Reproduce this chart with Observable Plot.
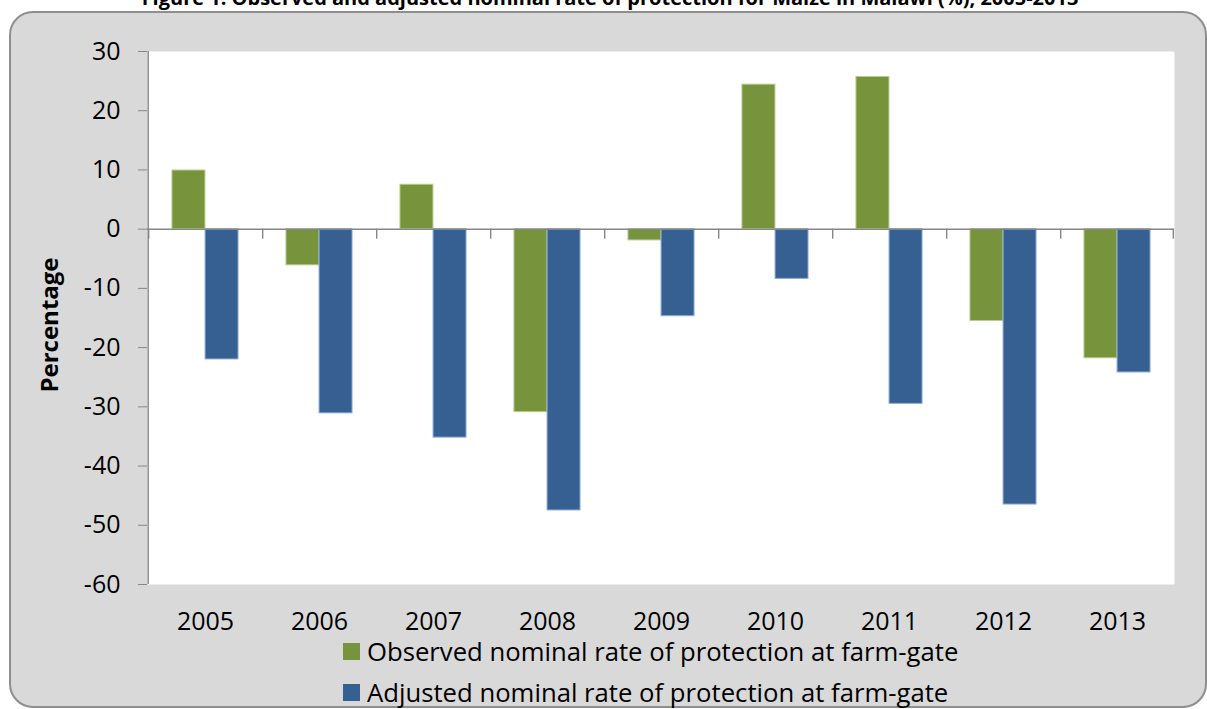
<!DOCTYPE html>
<html>
<head>
<meta charset="utf-8">
<script src="https://cdn.jsdelivr.net/npm/d3@7"></script>
<script src="https://cdn.jsdelivr.net/npm/@observablehq/plot@0.6"></script>
<style>
  html, body { margin: 0; padding: 0; background: #ffffff; }
  #page { position: relative; width: 1207px; height: 709px; overflow: hidden; font-family: "Open Sans", sans-serif; }
  #box { position: absolute; left: 9px; top: 11px; width: 1198px; height: 697px; box-sizing: border-box;
         background: #d9d9d9; border: 2px solid #8e8e8e; border-radius: 24px; }
  #title { position: absolute; left: 0; top: -12px; width: 1220px; text-align: center; font-weight: bold;
           font-size: 20px; line-height: 20px; color: #000; white-space: nowrap; }
  #chart { position: absolute; left: 0; top: 0; }
  #chart svg { overflow: visible; }
  #chart [aria-label="y-axis tick"], #chart .tick line { stroke: #868686; }
  #legend { position: absolute; left: 343px; top: 631px; font-size: 25.7px; line-height: 41px; color: #000; white-space: nowrap; }
  .row { position: relative; padding-left: 24px; height: 41px; }
  .sw { position: absolute; left: 0; top: 12px; width: 17px; height: 17px; }
</style>
</head>
<body>
<div id="page">
  <div id="box"></div>
  <div id="title">Figure 1: Observed and adjusted nominal rate of protection for Maize in Malawi (%), 2005-2013</div>
  <div id="chart"></div>
  <div id="legend"></div>
</div>
<script>
// ---- data ----
const years = ["2005", "2006", "2007", "2008", "2009", "2010", "2011", "2012", "2013"];
const observed = [9.9, -6.1, 7.5, -30.9, -1.9, 24.4, 25.7, -15.5, -21.8];
const adjusted = [-22.0, -31.1, -35.2, -47.5, -14.7, -8.4, -29.5, -46.5, -24.2];
const seriesNames = ["Observed nominal rate of protection at farm-gate", "Adjusted nominal rate of protection at farm-gate"];
const seriesColors = ["#77933c", "#376092"];
const seriesEdges = ["#b5cc8a", "#8fadd4"];
const yTicks = [30, 20, 10, 0, -10, -20, -30, -40, -50, -60];
const yLabel = "Percentage";

// ---- layout ----
const W = 1207, H = 636, mL = 147, mR = 33, mT = 51, mB = 52;
const bw = (W - mL - mR) / years.length;
const barW = bw * 0.29;
const pad = (bw - 2 * barW) / 2;
const yMin = d3.min(yTicks), yMax = d3.max(yTicks);
const pxPerUnit = (H - mT - mB) / (yMax - yMin);
const tickLen = 10 / pxPerUnit;

const obsRows = years.map((y, i) => ({year: y, value: observed[i], series: seriesNames[0]}));
const adjRows = years.map((y, i) => ({year: y, value: adjusted[i], series: seriesNames[1]}));

const chart = Plot.plot({
  width: W, height: H,
  marginLeft: mL, marginRight: mR, marginTop: mT, marginBottom: mB,
  style: {background: "transparent", fontFamily: "Open Sans, sans-serif", fontSize: "25px", color: "#000", overflow: "visible"},
  x: {domain: years, padding: 0, label: null, tickSize: 0, tickPadding: 28},
  y: {domain: [yMin, yMax], ticks: yTicks, label: null, tickSize: 9, tickPadding: 18, tickFormat: d => String(d)},
  color: {domain: seriesNames, range: seriesColors},
  marks: [
    Plot.frame({fill: "white", stroke: null}),
    Plot.barY(obsRows, {x: "year", y: "value", fill: "series", stroke: seriesEdges[0], strokeWidth: 1,
      insetLeft: pad, insetRight: pad + barW}),
    Plot.barY(adjRows, {x: "year", y: "value", fill: "series", stroke: seriesEdges[1], strokeWidth: 1,
      insetLeft: pad + barW, insetRight: pad}),
    Plot.ruleY([0], {stroke: "#868686", strokeWidth: 1.5}),
    // category boundary ticks below the zero line
    Plot.barY(years, {x: d => d, y1: 0, y2: -tickLen, fill: "#868686", insetLeft: 0, insetRight: bw - 1.5}),
    Plot.barY(years.slice(-1), {x: d => d, y1: 0, y2: -tickLen, fill: "#868686", insetLeft: bw - 1.5, insetRight: 0}),
    // y axis line
    Plot.barY(years.slice(0, 1), {x: d => d, y1: yMin, y2: yMax, fill: "#868686", insetLeft: -0.5, insetRight: bw - 1}),
    Plot.text([yLabel], {frameAnchor: "left", textAnchor: "middle", rotate: -90, dx: -97, dy: 7, text: d => d,
      fontWeight: "bold", fontSize: 24, fill: "#000"})
  ]
});
document.getElementById("chart").appendChild(chart);

// legend
const legend = document.getElementById("legend");
seriesNames.forEach((name, i) => {
  const row = document.createElement("div");
  row.className = "row";
  const sw = document.createElement("span");
  sw.className = "sw";
  sw.style.background = seriesColors[i];
  row.appendChild(sw);
  row.appendChild(document.createTextNode(name));
  legend.appendChild(row);
});
</script>
</body>
</html>
